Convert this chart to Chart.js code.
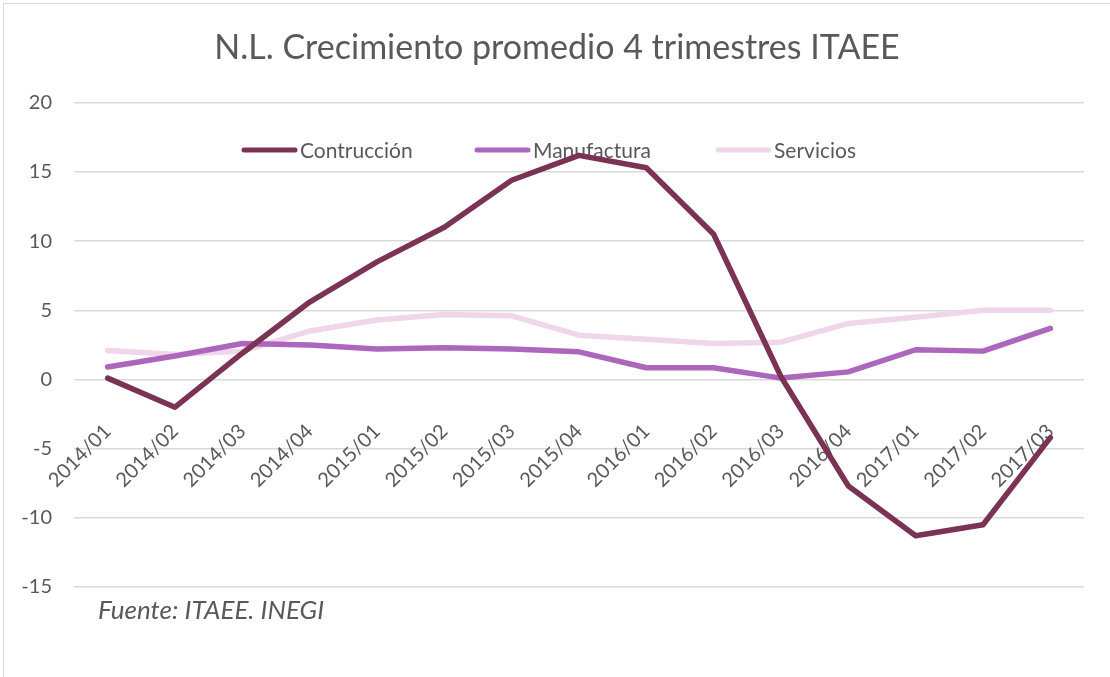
<!DOCTYPE html>
<html>
<head>
<meta charset="utf-8">
<script src="https://cdn.jsdelivr.net/npm/chart.js@4"></script>
<style>
  html, body { margin: 0; padding: 0; background: #fff; overflow: hidden; }
  #wrap { position: relative; width: 1110px; height: 677px; }
  #frame { position: absolute; left: 3px; top: 3px; width: 1130px; height: 700px;
           border: 1.5px solid #d9d9d9; pointer-events: none; }
</style>
</head>
<body>
<div id="wrap">
  <canvas id="myChart" width="1110" height="677"></canvas>
  <div id="frame"></div>
</div>
<script>
// Quarters and series values
const quarters = ['2014/01', '2014/02', '2014/03', '2014/04', '2015/01', '2015/02', '2015/03', '2015/04',
                  '2016/01', '2016/02', '2016/03', '2016/04', '2017/01', '2017/02', '2017/03'];
const construccion = [0.1, -2.0, 1.9, 5.6, 8.5, 11.0, 14.4, 16.2, 15.3, 10.5, 0.2, -7.7, -11.3, -10.5, -4.2];
const manufactura = [0.9, 1.7, 2.6, 2.5, 2.2, 2.3, 2.2, 2.0, 0.85, 0.85, 0.1, 0.55, 2.15, 2.05, 3.7];
const servicios = [2.1, 1.8, 2.05, 3.5, 4.3, 4.7, 4.6, 3.2, 2.9, 2.6, 2.7, 4.05, 4.5, 5.0, 5.0];
const yTicks = [-15, -10, -5, 0, 5, 10, 15, 20];

const textColor = '#595959';
const fontFamily = 'Lato, "Open Sans", sans-serif';

// legend drawn inside the plot, behind the lines
const insideLegend = {
    id: 'insideLegend',
    beforeDatasetsDraw(chart) {
        const ctx = chart.ctx;
        const textX = [300, 533, 774];
        const y = 150;
        ctx.save();
        ctx.font = '21px ' + fontFamily;
        ctx.textBaseline = 'middle';
        ctx.fillStyle = textColor;
        chart.data.datasets.forEach((ds, i) => {
            ctx.strokeStyle = ds.borderColor;
            ctx.lineWidth = 5;
            ctx.lineCap = 'round';
            ctx.beginPath();
            ctx.moveTo(textX[i] - 56, y);
            ctx.lineTo(textX[i] - 5, y);
            ctx.stroke();
            ctx.fillText(ds.label, textX[i], y + 1);
        });
        ctx.restore();
    }
};

const footNote = {
    id: 'footNote',
    afterDraw(chart) {
        const ctx = chart.ctx;
        ctx.save();
        ctx.font = 'italic 26px ' + fontFamily;
        ctx.fillStyle = textColor;
        ctx.textBaseline = 'alphabetic';
        ctx.fillText('Fuente: ITAEE. INEGI', 98, 619);
        ctx.restore();
    }
};

const data = {
    labels: quarters,
    datasets: [
        { label: 'Contrucción', data: construccion, borderColor: '#7b3355' },
        { label: 'Manufactura', data: manufactura, borderColor: '#ac66bc' },
        { label: 'Servicios', data: servicios, borderColor: '#f0d6ea' },
    ],
};

const config = {
    type: 'line',
    data: data,
    options: {
        responsive: false,
        animation: false,
        layout: { padding: { left: 4, right: 0, top: 0, bottom: 90 } },
        elements: {
            line: { borderWidth: 5.5, tension: 0, borderCapStyle: 'round', borderJoinStyle: 'round' },
            point: { radius: 0 },
        },
        plugins: {
            legend: { display: false },
            tooltip: { enabled: false },
            title: {
                display: true,
                text: 'N.L. Crecimiento promedio 4 trimestres ITAEE',
                color: textColor,
                font: { family: fontFamily, size: 34, weight: 'normal' },
                padding: { top: 28, bottom: 34 },
            },
        },
        scales: {
            x: {
                position: { y: 0 },
                offset: true,
                grid: { display: false },
                border: { display: false },
                ticks: {
                    color: textColor,
                    font: { family: fontFamily, size: 20 },
                    minRotation: 45,
                    maxRotation: 45,
                    autoSkip: false,
                    padding: 32,
                },
            },
            y: {
                min: -15,
                max: 20,
                afterBuildTicks(scale) {
                    scale.ticks = yTicks.map(v => ({ value: v }));
                },
                afterFit(scale) { scale.width = 70; },
                grid: { color: '#d9d9d9', lineWidth: 1.5, drawTicks: false },
                border: { display: false },
                ticks: {
                    color: textColor,
                    font: { family: fontFamily, size: 20 },
                    padding: 22,
                },
            },
            // empty right margin inside the frame
            yRight: {
                position: 'right',
                grid: { display: false },
                border: { display: false },
                ticks: { display: false },
                afterFit(scale) { scale.width = 26; },
            },
        },
    },
    plugins: [insideLegend, footNote],
};

const ctx = document.getElementById('myChart').getContext('2d');
const myChart = new Chart(ctx, config);
</script>
</body>
</html>
